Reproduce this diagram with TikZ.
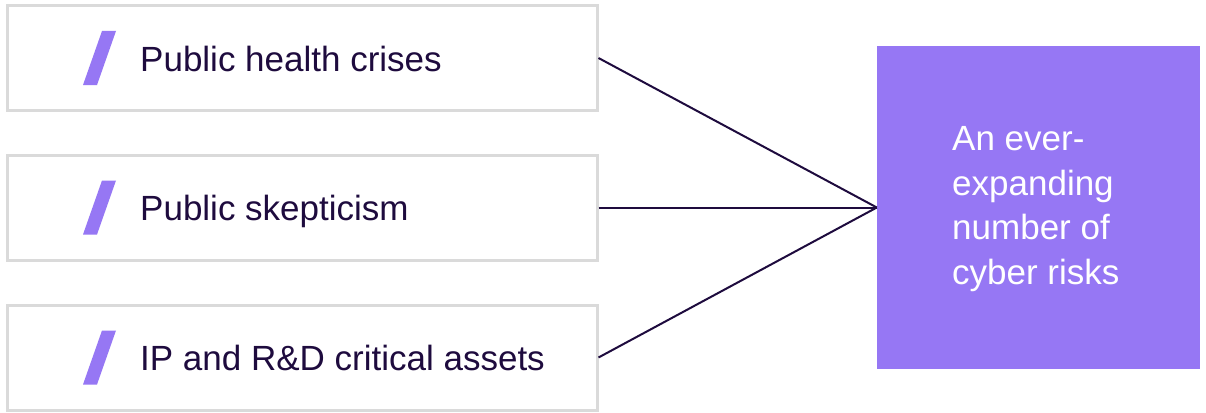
\documentclass[tikz,border=0pt]{standalone}
\usepackage{fontspec}
\setmainfont{Liberation Sans}
\definecolor{boxgray}{HTML}{DADADA}
\definecolor{lilac}{HTML}{9677F4}
\definecolor{ink}{HTML}{1E0B3E}
\begin{document}
\begin{tikzpicture}[x=1pt,y=-1pt,
  itembox/.style={draw=boxgray,line width=3pt,fill=white,minimum width=590pt,minimum height=105pt,inner sep=0pt},
  itemtext/.style={anchor=base west,inner sep=0pt,text=ink,font=\fontsize{35}{42}\selectfont},
  riskbox/.style={fill=lilac,minimum width=323pt,minimum height=323pt,inner sep=0pt},
  risktext/.style={anchor=west,inner sep=0pt,text=white,align=left,font=\fontsize{35}{44.7}\selectfont},
  link/.style={draw=ink,line width=2pt},
  slash/.style={fill=lilac}]
\useasboundingbox (0,0) rectangle (1206,412);
\node[itembox] (b1) at (302,58) {};
\node[itembox] (b2) at (302,207.5) {};
\node[itembox] (b3) at (302,357.5) {};
\node[riskbox] (risk) at (1038.5,207.5) {};
\foreach \m in {58,207.5,357.5}{
  \fill[slash] (102,\m-27) -- (116,\m-27) -- (97,\m+27) -- (83,\m+27) -- cycle;
}
\node[itemtext] (t1) at (140,71) {Public health crises};
\node[itemtext] (t2) at (140,220.5) {Public skepticism};
\node[itemtext] (t3) at (140,370.5) {IP and R\&D critical assets};
\node[risktext] (rt) at (952,209) {An ever-\\expanding\\number of\\cyber risks};
\draw[link] (b1.east) -- (risk.west);
\draw[link] (b2.east) -- (risk.west);
\draw[link] (b3.east) -- (risk.west);
\end{tikzpicture}
\end{document}
